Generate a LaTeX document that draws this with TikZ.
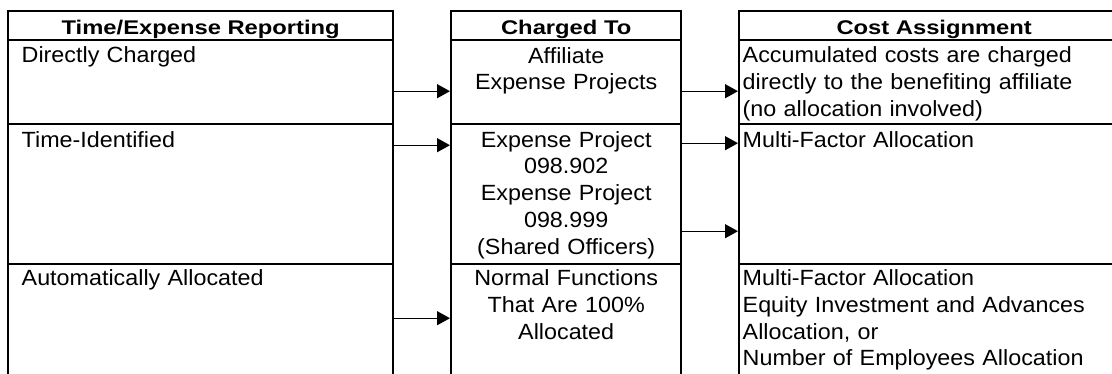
\documentclass[tikz,border=0pt]{standalone}
\usepackage{fontspec}
\setmainfont{Liberation Sans}
\newfontfamily\bodyfont[FakeStretch=1.06]{Liberation Sans}
\newfontfamily\headfont[FakeStretch=1.2]{Liberation Sans}
\usetikzlibrary{arrows.meta}

\begin{document}
\begin{tikzpicture}[x=1pt, y=-1pt,
        cell/.style={draw, line width=2.4pt, inner sep=0pt, anchor=north west},
        head/.style={font=\headfont\bfseries\fontsize{19.8}{22}\selectfont, inner sep=0pt, anchor=base},
        body/.style={font=\bodyfont\fontsize{22}{26.8}\selectfont, inner sep=0pt, text width=#1},
        link/.style={line width=1.3pt, -{Triangle[length=13pt,width=14pt]}}]

        \useasboundingbox (0,0) rectangle (1112,373);
        \clip (0,0) rectangle (1112,373);

        % table cells, the bottom row and the right column run off the page
        \foreach \col/\x/\w in {rep/7/385, chg/450/230, asg/738/390} {
            \foreach \row/\y/\h in {head/10/29, dir/39/84, tid/123/140, aut/263/130} {
                \node[cell, minimum width=\w pt, minimum height=\h pt] (\col\row) at (\x,\y) {};
            }
        }

        \node[head] (repheadtxt) at ([yshift=7pt]rephead.south) {Time/Expense Reporting};
        \node[head] (chgheadtxt) at ([yshift=7pt]chghead.south) {Charged To};
        \node[head] (asgheadtxt) at ([yshift=7pt]asghead.south) {Cost Assignment};

        \node[body=360pt, align=left, anchor=base west] (repdirtxt) at ([xshift=14.5pt, yshift=-23.5pt]repdir.north west) {Directly Charged};
        \node[body=360pt, align=left, anchor=base west] (reptidtxt) at ([xshift=14.5pt, yshift=-24pt]reptid.north west) {Time-Identified};
        \node[body=360pt, align=left, anchor=base west] (repauttxt) at ([xshift=14.5pt, yshift=-22.5pt]repaut.north west) {Automatically Allocated};

        \node[body=220pt, align=center, anchor=base] (chgdirtxt) at ([yshift=-24pt]chgdir.north) {Affiliate\\Expense Projects};
        \node[body=220pt, align=center, anchor=base] (chgtidtxt) at ([yshift=-24pt]chgtid.north) {Expense Project\\098.902\\Expense Project\\098.999\\(Shared Officers)};
        \node[body=220pt, align=center, anchor=base] (chgauttxt) at ([yshift=-22.5pt]chgaut.north) {Normal Functions\\That Are 100\%\\Allocated};

        \node[body=365pt, align=left, anchor=base west] (asgdirtxt) at ([xshift=4.5pt, yshift=-23.5pt]asgdir.north west) {Accumulated costs are charged\\directly to the benefiting affiliate\\(no allocation involved)};
        \node[body=365pt, align=left, anchor=base west] (asgtidtxt) at ([xshift=4.5pt, yshift=-24pt]asgtid.north west) {Multi-Factor Allocation};
        \node[body=365pt, align=left, anchor=base west] (asgauttxt) at ([xshift=4.5pt, yshift=-22.5pt]asgaut.north west) {Multi-Factor Allocation\\Equity Investment and Advances\\Allocation, or\\Number of Employees Allocation};

        % arrows
        \draw[link] ([yshift=-9pt]repdir.east) -- ([yshift=-9pt]chgdir.west);
        \draw[link] ([yshift=-9pt]chgdir.east) -- ([yshift=-9pt]asgdir.west);
        \draw[link] ([yshift=49pt]reptid.east) -- ([yshift=49pt]chgtid.west);
        \draw[link] ([yshift=51pt]chgtid.east) -- ([yshift=51pt]asgtid.west);
        \draw[link] ([yshift=-37pt]chgtid.east) -- ([yshift=-37pt]asgtid.west);
        \draw[link] ([yshift=11pt]repaut.east) -- ([yshift=11pt]chgaut.west);
    \end{tikzpicture}
\end{document}
